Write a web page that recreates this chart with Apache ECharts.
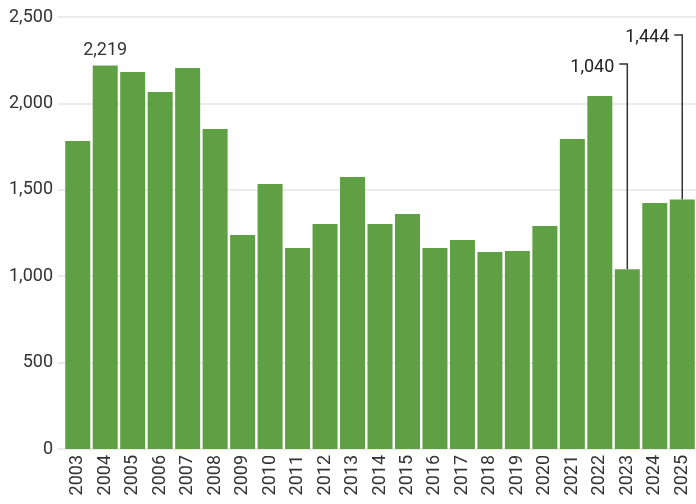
<!DOCTYPE html>
<html>
<head>
<meta charset="utf-8">
<script src="https://cdn.jsdelivr.net/npm/echarts@6/dist/echarts.min.js"></script>
<style>
  html, body { margin: 0; padding: 0; background: #fff; }
  #chart { width: 696px; height: 504px; }
</style>
</head>
<body>
<div id="chart"></div>
<script>
const years = ['2003', '2004', '2005', '2006', '2007', '2008', '2009', '2010', '2011', '2012', '2013', '2014',
  '2015', '2016', '2017', '2018', '2019', '2020', '2021', '2022', '2023', '2024', '2025']
const values = [1782, 2219, 2182, 2066, 2205, 1852, 1238, 1534, 1163, 1302, 1574, 1302,
  1360, 1163, 1209, 1140, 1146, 1290, 1794, 2043, 1040, 1424, 1444]
const yTicks = [0, 500, 1000, 1500, 2000, 2500]
// bars labelled directly on top, and bars labelled with a callout line
const topLabelYears = ['2004']
const calloutYears = ['2023', '2025']

const fmt = v => Number(v).toLocaleString('en-US')
const green = '#60a044'
const gridColor = '#ebebeb'
const textFont = 'Roboto'

// how high (in axis units) each callout hook sits
const calloutLevels = { '2023': 2228, '2025': 2396 }

const chart = echarts.init(document.getElementById('chart'))

const option = {
  animation: false,
  grid: { left: 64, right: -3, top: 17, bottom: 55 },
  xAxis: {
    type: 'category',
    data: years,
    axisLine: { show: false },
    axisTick: { show: false },
    axisLabel: {
      rotate: 90,
      margin: 6,
      color: '#333',
      fontSize: 18,
      fontFamily: textFont,
      interval: 0
    }
  },
  yAxis: {
    type: 'value',
    min: yTicks[0],
    max: yTicks[yTicks.length - 1],
    interval: yTicks[1] - yTicks[0],
    axisLine: { show: false },
    axisTick: { show: true, length: 6, lineStyle: { color: gridColor, width: 2 } },
    splitLine: { lineStyle: { color: gridColor, width: 2 } },
    axisLabel: {
      margin: 11,
      color: '#333',
      fontSize: 18,
      fontFamily: textFont,
      formatter: v => fmt(v)
    }
  },
  series: [
    {
      type: 'bar',
      barWidth: 25,
      itemStyle: { color: green },
      data: values.map((v, i) => ({
        value: v,
        label: {
          show: topLabelYears.includes(years[i]),
          position: 'top',
          distance: 6,
          color: '#333',
          fontSize: 18,
          fontFamily: textFont,
          formatter: p => fmt(p.value)
        }
      }))
    },
    {
      type: 'custom',
      silent: true,
      clip: false,
      data: calloutYears.map(y => [y, values[years.indexOf(y)], calloutLevels[y]]),
      renderItem: (params, api) => {
        const idx = api.value(0)
        const p = api.coord([idx, api.value(1)])
        const t = api.coord([idx, api.value(2)])
        return {
          type: 'group',
          children: [
            {
              type: 'polyline',
              shape: { points: [[p[0] - 8, t[1]], [p[0], t[1]], [p[0], p[1]]] },
              style: { stroke: '#333', lineWidth: 1.5, fill: null }
            },
            {
              type: 'text',
              x: p[0] - 13,
              y: t[1] + 3,
              style: {
                text: fmt(api.value(1)),
                align: 'right',
                verticalAlign: 'middle',
                fill: '#222',
                fontSize: 18,
                fontFamily: textFont
              }
            }
          ]
        }
      }
    }
  ]
}

chart.setOption(option)
</script>
</body>
</html>
